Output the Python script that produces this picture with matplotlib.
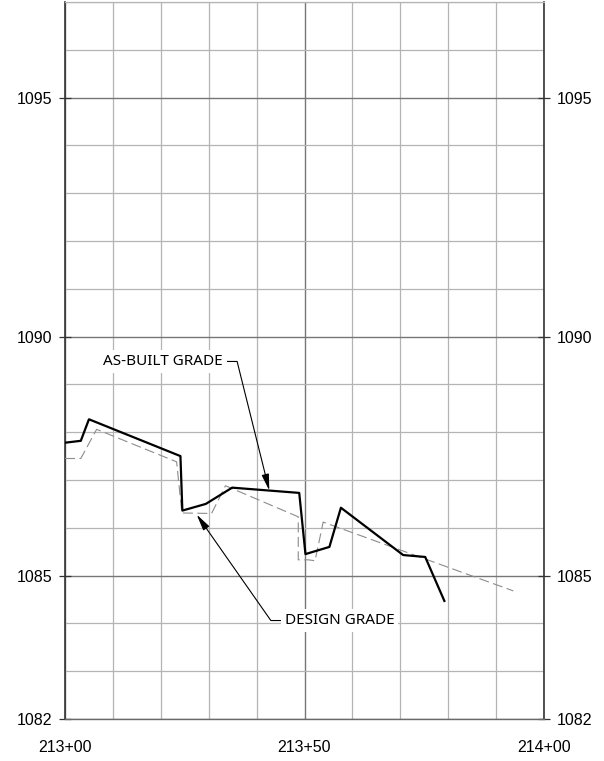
import matplotlib.pyplot as plt
import numpy as np
from matplotlib.ticker import MultipleLocator, FixedLocator

# distance past station 213+00 (ft) and elevation (ft)
asbuilt_x = [0.0, 3.3, 5.0, 24.1, 24.5, 29.4, 34.9, 48.9, 50.2, 55.2, 57.6, 70.6, 75.2, 79.2]
asbuilt_y = [1087.78, 1087.82, 1088.27, 1087.50, 1086.36, 1086.50, 1086.84, 1086.73,
             1085.45, 1085.60, 1086.42, 1085.43, 1085.39, 1084.47]

design_x = [0.0, 3.3, 6.6, 23.3, 24.4, 30.6, 33.5, 48.7, 48.7, 50.8, 52.2, 53.9, 93.6]
design_y = [1087.45, 1087.45, 1088.06, 1087.38, 1086.31, 1086.30, 1086.88, 1086.23,
            1085.33, 1085.33, 1085.31, 1086.12, 1084.68]

station_ticks = [0, 50, 100]
station_labels = ["213+00", "213+50", "214+00"]
elev_ticks = [1082, 1085, 1090, 1095]

fig = plt.figure(figsize=(6.04, 7.61), dpi=100)
ax = fig.add_axes([65 / 604, 1 - 719 / 761, 479 / 604, 717 / 761])

ax.plot(design_x, design_y, color="#8c8c8c", lw=0.8, dashes=(9, 4), zorder=3)
ax.plot(asbuilt_x, asbuilt_y, color="black", lw=1.6, zorder=4)

ax.set_xlim(0, 100)
ax.set_ylim(1082, 1097)

ax.xaxis.set_major_locator(FixedLocator(station_ticks))
ax.xaxis.set_minor_locator(MultipleLocator(10))
ax.set_xticklabels(station_labels)
ax.yaxis.set_major_locator(FixedLocator(elev_ticks))
ax.yaxis.set_minor_locator(MultipleLocator(1))

ax.grid(which="minor", color="#b4b4b4", lw=0.9, zorder=0)
ax.grid(which="major", color="#767676", lw=1.0, zorder=1)

for side in ("left", "right"):
    ax.spines[side].set_color("#333333")
    ax.spines[side].set_linewidth(1.2)
ax.spines["top"].set_color("#b4b4b4")
ax.spines["top"].set_linewidth(0.9)
ax.spines["bottom"].set_color("#6a6a6a")
ax.spines["bottom"].set_linewidth(1.0)

ax.tick_params(axis="y", which="major", direction="inout", length=8.5, width=0.9,
               color="#333333", left=True, right=True, labelleft=True, labelright=True,
               labelsize=11.5, pad=5)
ax.tick_params(axis="x", which="major", length=0, pad=15, labelsize=11.5)
ax.tick_params(which="minor", length=0)
for lab in ax.get_xticklabels() + ax.get_yticklabels():
    lab.set_family("Liberation Sans")

box = dict(boxstyle="square,pad=0.25", fc="white", ec="none")
arrow = dict(arrowstyle="-|>,head_length=0.9,head_width=0.2", color="black", lw=0.8,
             shrinkA=0, shrinkB=0)

tip = 42.65
ax.annotate("AS-BUILT GRADE", xy=(tip, np.interp(tip, asbuilt_x, asbuilt_y)),
            xytext=(33.0, 1089.48), ha="right", va="center", family="Noto Sans",
            fontsize=11, bbox=box, zorder=6,
            arrowprops=dict(arrow, relpos=(1, 0.5),
                            connectionstyle="angle,angleA=0,angleB=104,rad=0"))

tip = 27.5
ax.annotate("DESIGN GRADE", xy=(tip, np.interp(tip, design_x, design_y) - 0.03),
            xytext=(45.9, 1084.06), ha="left", va="center", family="Noto Sans",
            fontsize=11, bbox=box, zorder=6,
            arrowprops=dict(arrow, relpos=(0, 0.5),
                            connectionstyle="angle,angleA=0,angleB=125,rad=0"))

fig.savefig("out.png", dpi=100, facecolor="white")
